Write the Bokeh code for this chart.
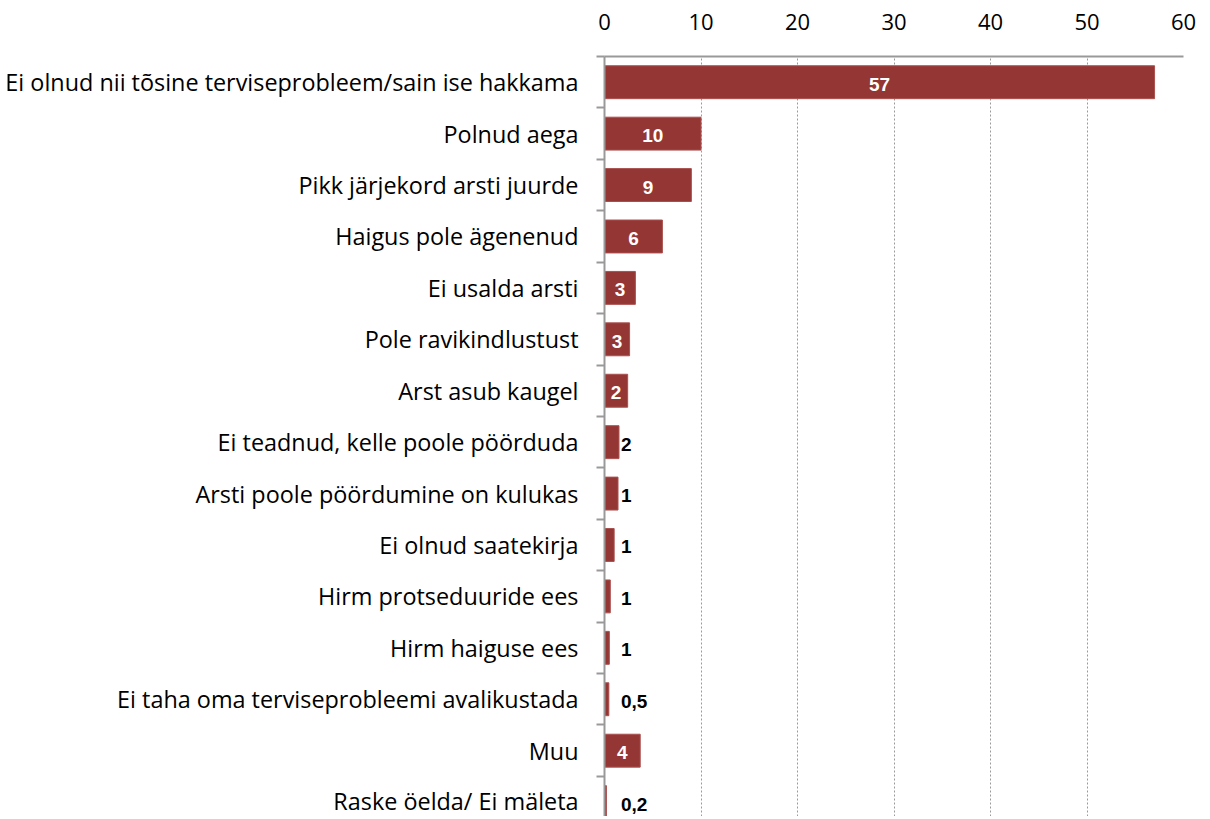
import numpy as np
from bokeh.plotting import figure
from bokeh.models import Range1d, FixedTicker, ColumnDataSource
from bokeh.core.properties import value
from bokeh.embed import file_html
from bokeh.resources import INLINE

categories = [
    "Ei olnud nii tõsine terviseprobleem/sain ise hakkama",
    "Polnud aega",
    "Pikk järjekord arsti juurde",
    "Haigus pole ägenenud",
    "Ei usalda arsti",
    "Pole ravikindlustust",
    "Arst asub kaugel",
    "Ei teadnud, kelle poole pöörduda",
    "Arsti poole pöördumine on kulukas",
    "Ei olnud saatekirja",
    "Hirm protseduuride ees",
    "Hirm haiguse ees",
    "Ei taha oma terviseprobleemi avalikustada",
    "Muu",
    "Raske öelda/ Ei mäleta",
]
values = [57, 10, 9, 6, 3.2, 2.6, 2.4, 1.5, 1.4, 1.0, 0.6, 0.5, 0.45, 3.7, 0.2]
value_labels = ["57", "10", "9", "6", "3", "3", "2", "2", "1", "1", "1", "1", "0,5", "4", "0,2"]
x_ticks = [0, 10, 20, 30, 40, 50, 60]

n = len(categories)
ypos = np.arange(n)[::-1].astype(float)  # top row highest
vals = np.array(values, dtype=float)

p = figure(width=1198, height=816, x_range=Range1d(0, 60), y_range=Range1d(-0.28, n - 0.5),
           x_axis_location="above", output_backend="svg", toolbar_location=None,
           min_border_left=604, min_border_right=15, min_border_top=56, min_border_bottom=0)
p.outline_line_color = None
p.background_fill_color = "white"

# x axis (top)
p.xaxis.ticker = FixedTicker(ticks=x_ticks)
p.xaxis.major_tick_line_color = None
p.xaxis.minor_tick_line_color = None
p.xaxis.axis_line_color = "#999999"
p.xaxis.axis_line_width = 2
p.xaxis.major_label_text_font = "Open Sans"
p.xaxis.major_label_text_font_size = "22px"
p.xaxis.major_label_text_color = "black"
p.xaxis.major_label_standoff = 21

# grid
p.ygrid.grid_line_color = None
p.xgrid.ticker = FixedTicker(ticks=x_ticks[1:])
p.xgrid.grid_line_color = "#9a9a9a"
p.xgrid.grid_line_dash = "2 2"
p.xgrid.grid_line_width = 1

# y axis
p.yaxis.ticker = FixedTicker(ticks=list(ypos), minor_ticks=list(np.arange(-0.5, n, 1.0)))
p.yaxis.major_label_overrides = {float(y): c for y, c in zip(ypos, categories)}
p.yaxis.major_tick_line_color = None
p.yaxis.minor_tick_line_color = "#999999"
p.yaxis.minor_tick_line_width = 2
p.yaxis.minor_tick_out = 8
p.yaxis.minor_tick_in = 0
p.yaxis.major_tick_out = 0
p.yaxis.axis_line_color = "#999999"
p.yaxis.axis_line_width = 2
p.yaxis.major_label_text_font = "Open Sans"
p.yaxis.major_label_text_font_size = "23.4px"
p.yaxis.major_label_text_color = "black"
p.yaxis.major_label_standoff = 18

src = ColumnDataSource(dict(y=ypos, v=vals))
p.hbar(y="y", left=0, right="v", height=0.64, source=src,
       fill_color="#943634", line_color="#a9504e", line_width=1)

inside = vals >= 2
src_in = ColumnDataSource(dict(x=vals[inside] / 2, y=ypos[inside],
                               t=[l for l, k in zip(value_labels, inside) if k]))
p.text(x="x", y="y", text="t", source=src_in, text_align="center", text_baseline="middle",
       y_offset=2, text_color="white", text_font=value("Liberation Sans"), text_font_style="bold",
       text_font_size="19px")

out = ~inside
src_out = ColumnDataSource(dict(x=np.maximum(vals[out], 1.5), y=ypos[out],
                                t=[l for l, k in zip(value_labels, out) if k]))
p.text(x="x", y="y", text="t", source=src_out, text_align="left", text_baseline="middle",
       x_offset=2, y_offset=2, text_color="black", text_font=value("Liberation Sans"),
       text_font_style="bold", text_font_size="19px")

open("out.html", "w").write(file_html(p, INLINE))
